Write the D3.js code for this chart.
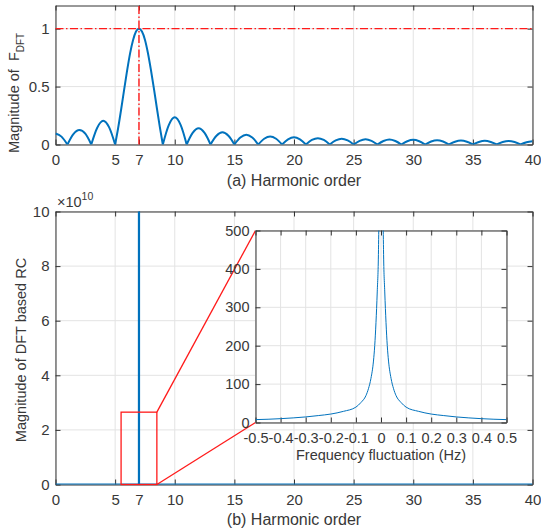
<!DOCTYPE html>
<html>
<head>
<meta charset="utf-8">
<script src="https://cdn.jsdelivr.net/npm/d3@7"></script>
<style>
body { margin: 0; background: #fff; }
svg text { font-family: "Liberation Sans", Arial, sans-serif; fill: #383838; }
.axis text { font-size: 15px; }
.inset .axis text { font-size: 14.5px; }
.axis .domain, .axis line { stroke: #333; }
.grid line { stroke: #e3e3e3; stroke-width: 1; }
</style>
</head>
<body>
<div id="chart"></div>
<script>
// ---- (a) magnitude of F_DFT vs harmonic order ----
var harmonicOrder = [0, 0.5, 1, 1.5, 2, 2.5, 3, 3.5, 4, 4.5, 5,
    5.25, 5.5, 5.75, 6, 6.25, 6.5, 6.75, 7, 7.25, 7.5, 7.75, 8, 8.25, 8.5, 8.75, 9,
    9.5, 10, 10.5, 11, 11.5, 12, 12.5, 13, 13.5, 14, 14.5, 15, 15.5, 16, 16.5, 17,
    17.5, 18, 18.5, 19, 19.5, 20, 20.5, 21, 21.5, 22, 22.5, 23, 23.5, 24, 24.5, 25,
    25.5, 26, 26.5, 27, 27.5, 28, 28.5, 29, 29.5, 30, 30.5, 31, 31.5, 32, 32.5, 33,
    33.5, 34, 34.5, 35, 35.5, 36, 36.5, 37, 37.5, 38, 38.5, 39, 39.5, 40];
var magnitudeFDFT = [0.095, 0.068, 0, 0.09, 0.125, 0.093, 0, 0.145, 0.205, 0.148, 0,
    0.14, 0.30, 0.47, 0.635, 0.785, 0.90, 0.975, 1, 0.975, 0.905, 0.79, 0.645, 0.485, 0.315, 0.15, 0,
    0.168, 0.235, 0.168, 0, 0.1, 0.14, 0.1, 0, 0.075, 0.105, 0.075, 0, 0.06, 0.085, 0.06, 0,
    0.05, 0.07, 0.05, 0, 0.044, 0.062, 0.044, 0, 0.039, 0.055, 0.039, 0, 0.035, 0.05, 0.035, 0,
    0.032, 0.046, 0.032, 0, 0.03, 0.043, 0.03, 0, 0.028, 0.04, 0.028, 0, 0.026, 0.037, 0.026, 0,
    0.024, 0.034, 0.024, 0, 0.022, 0.032, 0.022, 0, 0.021, 0.03, 0.021, 0, 0.02, 0.028];
var targetOrder = 7;      // red dash-dot markers
var targetMagnitude = 1;
var harmonicTicks = [0, 5, 7, 10, 15, 20, 25, 30, 35, 40];
var fdftTicks = [0, 0.5, 1];

// ---- (b) magnitude of DFT based RC (x 10^10) ----
var rcOrder = [0, 5, 6.99, 7, 7.01, 9, 40];
var rcMagnitude = [1, 2, 7, 1e17, 7, 2, 1];
var rcTicks = [0, 2, 4, 6, 8, 10];
var zoomOrder = [5.5, 8.5];        // red box, harmonic order
var zoomMagnitude = [0, 2.65];     // red box, x 10^10

// ---- inset: magnitude vs frequency fluctuation ----
var freqFluct = [-0.5, -0.45, -0.4, -0.35, -0.3, -0.25, -0.2, -0.15, -0.1, -0.08, -0.06, -0.05,
    -0.04, -0.03, -0.025, -0.02, -0.015, -0.01, -0.005, 0, 0.005, 0.01, 0.015, 0.02, 0.025, 0.03,
    0.04, 0.05, 0.06, 0.08, 0.1, 0.15, 0.2, 0.25, 0.3, 0.35, 0.4, 0.45, 0.5];
var insetMagnitude = [7.5, 8.5, 10, 12, 14.5, 18, 22, 29, 40, 52, 70, 88,
    115, 160, 200, 260, 340, 450, 800, 2000, 800, 450, 340, 260, 200, 160,
    115, 88, 70, 52, 40, 29, 22, 18, 14.5, 12, 10, 8.5, 7.5];
var freqTicks = [-0.5, -0.4, -0.3, -0.2, -0.1, 0, 0.1, 0.2, 0.3, 0.4, 0.5];
var insetTicks = [0, 100, 200, 300, 400, 500];

var BLUE = '#0072BD', RED = '#ff1a1a';

var svg = d3.select('#chart').append('svg')
    .attr('width', 541).attr('height', 531);

/**
 * Grid, box and inward ticks on all four sides (MATLAB style)
 */
function drawFrame(g, x, y, xTicks, yTicks, xFmt, yFmt, id) {
    var xr = x.range(), yr = y.range();
    g.append('rect')
        .attr('x', xr[0]).attr('y', yr[1])
        .attr('width', xr[1] - xr[0]).attr('height', yr[0] - yr[1])
        .attr('fill', '#fff');
    g.append('clipPath').attr('id', id).append('rect')
        .attr('x', xr[0]).attr('y', yr[1])
        .attr('width', xr[1] - xr[0]).attr('height', yr[0] - yr[1]);

    var grid = g.append('g').attr('class', 'grid');
    grid.selectAll('line.gx').data(xTicks).join('line').attr('class', 'gx')
        .attr('x1', d => x(d)).attr('x2', d => x(d))
        .attr('y1', yr[0]).attr('y2', yr[1]);
    grid.selectAll('line.gy').data(yTicks).join('line').attr('class', 'gy')
        .attr('x1', xr[0]).attr('x2', xr[1])
        .attr('y1', d => y(d)).attr('y2', d => y(d));

    g.append('g').attr('class', 'axis')
        .attr('transform', 'translate(0,' + yr[0] + ')')
        .call(d3.axisBottom(x).tickValues(xTicks).tickFormat(xFmt)
            .tickSizeInner(-5).tickSizeOuter(0).tickPadding(10));
    g.append('g').attr('class', 'axis')
        .attr('transform', 'translate(0,' + yr[1] + ')')
        .call(d3.axisTop(x).tickValues(xTicks).tickFormat('')
            .tickSizeInner(-5).tickSizeOuter(0));
    g.append('g').attr('class', 'axis')
        .attr('transform', 'translate(' + xr[0] + ',0)')
        .call(d3.axisLeft(y).tickValues(yTicks).tickFormat(yFmt)
            .tickSizeInner(-5).tickSizeOuter(0).tickPadding(6));
    g.append('g').attr('class', 'axis')
        .attr('transform', 'translate(' + xr[1] + ',0)')
        .call(d3.axisRight(y).tickValues(yTicks).tickFormat('')
            .tickSizeInner(-5).tickSizeOuter(0));
}

// ================= (a) =================
var xa = d3.scaleLinear().domain([0, 40]).range([55.5, 532.5]);
var ya = d3.scaleLinear().domain([0, 1.2]).range([144.5, 5.5]);
var ga = svg.append('g');
drawFrame(ga, xa, ya, harmonicTicks, fdftTicks, d3.format('d'), d => String(d), 'clipA');

// split the |F| curve into lobes at its zeros so the cusps stay sharp
var fdft = harmonicOrder.map((k, i) => ({ k: k, v: magnitudeFDFT[i] }));
var lobes = [], cur = [];
fdft.forEach(function(p) {
    cur.push(p);
    if (p.v === 0 && cur.length > 1) { lobes.push(cur); cur = [p]; }
});
if (cur.length > 1) lobes.push(cur);

var lineA = d3.line().x(d => xa(d.k)).y(d => ya(d.v)).curve(d3.curveMonotoneX);
ga.append('g').attr('clip-path', 'url(#clipA)')
    .selectAll('path').data(lobes).join('path')
    .attr('d', lineA)
    .attr('fill', 'none').attr('stroke', BLUE).attr('stroke-width', 2);

ga.append('line')
    .attr('x1', xa(0)).attr('x2', xa(40))
    .attr('y1', ya(targetMagnitude)).attr('y2', ya(targetMagnitude))
    .attr('stroke', RED).attr('stroke-width', 1.4).attr('stroke-dasharray', '8,2.5,1.5,2.5');
ga.append('line')
    .attr('x1', xa(targetOrder)).attr('x2', xa(targetOrder))
    .attr('y1', ya(0)).attr('y2', ya(1.2))
    .attr('stroke', RED).attr('stroke-width', 1.4).attr('stroke-dasharray', '8,2.5,1.5,2.5');

ga.append('text')
    .attr('transform', 'translate(19,153) rotate(-90)')
    .style('font-size', '14.5px').style('white-space', 'pre')
    .text('Magnitude of  F')
    .append('tspan').attr('dy', 5).style('font-size', '10px').text('DFT');
ga.append('text')
    .attr('x', (xa(0) + xa(40)) / 2).attr('y', 186)
    .attr('text-anchor', 'middle').style('font-size', '16px')
    .text('(a) Harmonic order');

// ================= (b) =================
var xb = d3.scaleLinear().domain([0, 40]).range([55.5, 532.5]);
var yb = d3.scaleLinear().domain([0, 10]).range([484.5, 211.5]);
var gb = svg.append('g');
drawFrame(gb, xb, yb, harmonicTicks, rcTicks, d3.format('d'), d3.format('d'), 'clipB');

var rc = rcOrder.map((k, i) => ({ k: k, v: rcMagnitude[i] / 1e10 }));
gb.append('path').datum(rc)
    .attr('clip-path', 'url(#clipB)')
    .attr('d', d3.line().x(d => xb(d.k)).y(d => yb(Math.min(d.v, 1e4))))
    .attr('fill', 'none').attr('stroke', BLUE).attr('stroke-width', 2);

var exp = gb.append('text').attr('x', 57).attr('y', 207).style('font-size', '14.5px');
exp.append('tspan').text('\u00d710');
exp.append('tspan').attr('dy', -7).style('font-size', '10.5px').text('10');

gb.append('text')
    .attr('transform', 'translate(26,' + ((yb(0) + yb(10)) / 2 + 2) + ') rotate(-90)')
    .attr('text-anchor', 'middle').style('font-size', '14.5px')
    .text('Magnitude of DFT based RC');
gb.append('text')
    .attr('x', (xb(0) + xb(40)) / 2).attr('y', 525)
    .attr('text-anchor', 'middle').style('font-size', '16px')
    .text('(b) Harmonic order');

// ================= inset =================
var xi = d3.scaleLinear().domain([-0.5, 0.5]).range([255.5, 506.5]);
var yi = d3.scaleLinear().domain([0, 500]).range([422.5, 230.5]);

// zoom box and connector lines
gb.append('rect')
    .attr('x', xb(zoomOrder[0])).attr('y', yb(zoomMagnitude[1]))
    .attr('width', xb(zoomOrder[1]) - xb(zoomOrder[0]))
    .attr('height', yb(zoomMagnitude[0]) - yb(zoomMagnitude[1]))
    .attr('fill', 'none').attr('stroke', RED).attr('stroke-width', 1.3);
gb.append('line')
    .attr('x1', xb(zoomOrder[1])).attr('y1', yb(zoomMagnitude[1]))
    .attr('x2', xi(-0.5)).attr('y2', yi(500))
    .attr('stroke', RED).attr('stroke-width', 1.3);
gb.append('line')
    .attr('x1', xb(zoomOrder[1])).attr('y1', yb(zoomMagnitude[0]))
    .attr('x2', xi(-0.5)).attr('y2', yi(0))
    .attr('stroke', RED).attr('stroke-width', 1.3);

var gi = svg.append('g').attr('class', 'inset');
drawFrame(gi, xi, yi, freqTicks, insetTicks, d => String(d), d3.format('d'), 'clipI');

var ins = freqFluct.map((f, i) => ({ f: f, v: insetMagnitude[i] }));
gi.append('path').datum(ins)
    .attr('clip-path', 'url(#clipI)')
    .attr('d', d3.line().x(d => xi(d.f)).y(d => yi(d.v)).curve(d3.curveMonotoneX))
    .attr('fill', 'none').attr('stroke', BLUE).attr('stroke-width', 1);

gi.append('text')
    .attr('x', (xi(-0.5) + xi(0.5)) / 2).attr('y', 460)
    .attr('text-anchor', 'middle').style('font-size', '14.5px')
    .text('Frequency fluctuation (Hz)');
</script>
</body>
</html>
